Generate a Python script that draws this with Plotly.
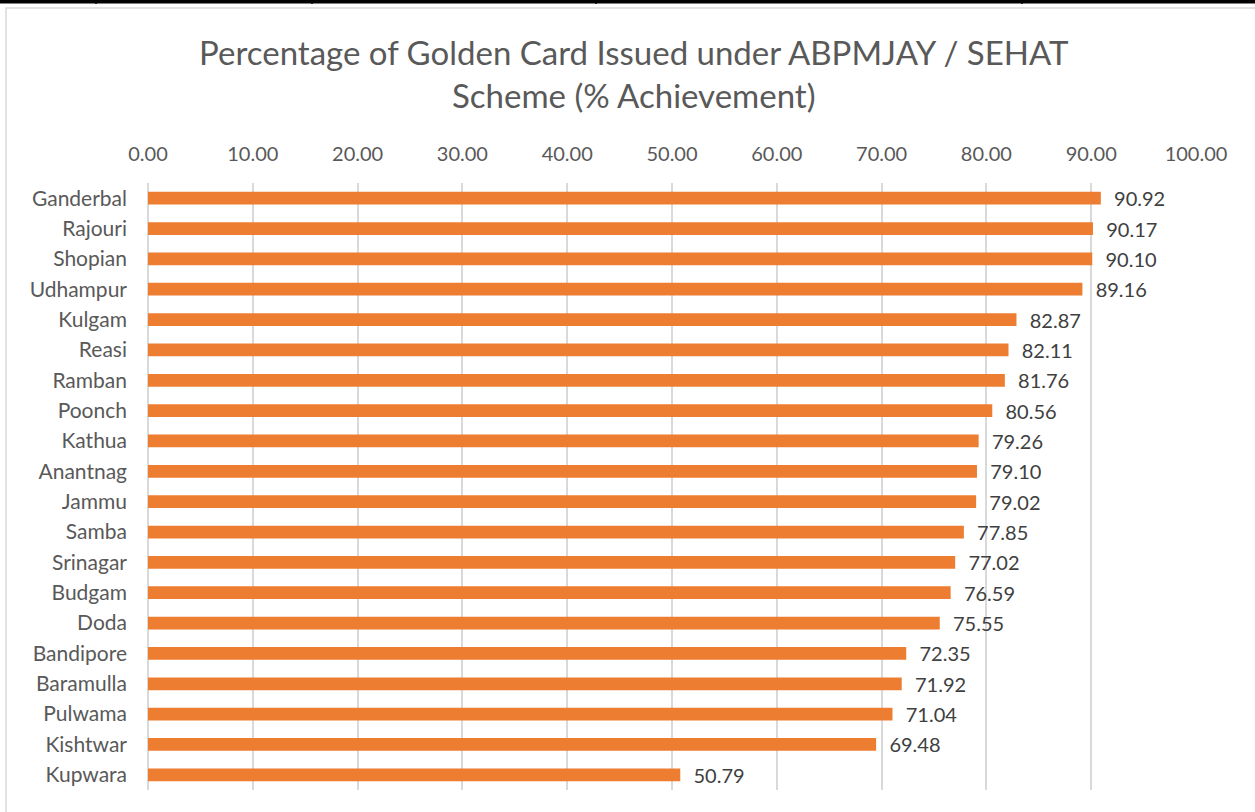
import plotly.graph_objects as go

districts = ["Ganderbal", "Rajouri", "Shopian", "Udhampur", "Kulgam", "Reasi", "Ramban",
             "Poonch", "Kathua", "Anantnag", "Jammu", "Samba", "Srinagar", "Budgam", "Doda",
             "Bandipore", "Baramulla", "Pulwama", "Kishtwar", "Kupwara"]
achievement = [90.92, 90.17, 90.10, 89.16, 82.87, 82.11, 81.76, 80.56, 79.26, 79.10,
               79.02, 77.85, 77.02, 76.59, 75.55, 72.35, 71.92, 71.04, 69.48, 50.79]
x_ticks = list(range(0, 101, 10))

W, H = 1255, 812
L, R, T, B = 148, 59, 183, 22
ph = H - T - B
pw = W - L - R


def px_x(x):
    return (x - L) / pw


def px_y(y):
    return (H - B - y) / ph


fig = go.Figure(go.Bar(
    y=districts, x=achievement, orientation="h",
    marker=dict(color="#ED7D31", line=dict(width=0)),
    texttemplate="\u00a0\u00a0%{x:.2f}", textposition="outside", constraintext="none",
    textfont=dict(family="Lato", size=20, color="#404040"),
    cliponaxis=False,
))

fig.update_layout(
    width=W, height=H,
    margin=dict(l=L, r=R, t=T, b=B),
    plot_bgcolor="white", paper_bgcolor="white",
    bargap=0.58,
    showlegend=False,
    title=dict(text="Percentage of Golden Card Issued under ABPMJAY / SEHAT<br>Scheme (% Achievement)",
               x=0.505, xanchor="center", y=1 - 65 / H, yanchor="top",
               font=dict(family="Lato", size=33, color="#595959")),
    font=dict(family="Lato", color="#595959"),
)

fig.update_xaxes(side="top", range=[0, 100], tickvals=x_ticks, tickformat=".2f",
                 showgrid=True, gridcolor="#D9D9D9", gridwidth=1.5,
                 zeroline=True, zerolinecolor="#D9D9D9", zerolinewidth=1.5,
                 ticks="", ticklabelstandoff=17,
                 tickfont=dict(family="Lato", size=20, color="#595959"))
fig.update_yaxes(autorange="reversed", showgrid=False, ticks="", ticklabelstandoff=20,
                 tickfont=dict(family="Lato", size=21, color="#595959"))

# chart border and table line above
fig.add_shape(type="rect", xref="paper", yref="paper",
              x0=px_x(6), x1=px_x(1262), y0=px_y(8), y1=px_y(820),
              line=dict(color="#D9D9D9", width=1.5), layer="below")
fig.add_shape(type="line", xref="paper", yref="paper",
              x0=px_x(0), x1=px_x(W), y0=px_y(1.5), y1=px_y(1.5),
              line=dict(color="black", width=4))
for xv in [96, 312, 596, 1022]:
    fig.add_shape(type="line", xref="paper", yref="paper",
                  x0=px_x(xv), x1=px_x(xv), y0=px_y(-5), y1=px_y(4),
                  line=dict(color="black", width=1.5))

fig.write_html("out.html", config={"displayModeBar": False},
               post_script="document.body.style.margin='0';")
